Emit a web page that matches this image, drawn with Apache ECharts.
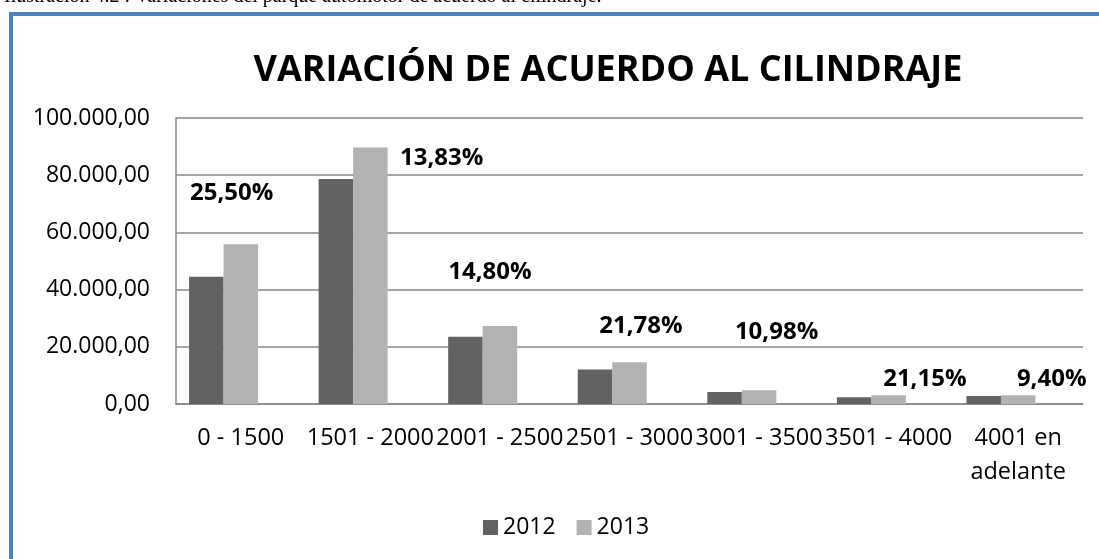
<!DOCTYPE html>
<html>
<head>
<meta charset="utf-8">
<script src="https://cdn.jsdelivr.net/npm/echarts@6/dist/echarts.min.js"></script>
<style>
  html, body { margin: 0; padding: 0; background: #fff; }
  #chart { width: 1099px; height: 559px; }
</style>
</head>
<body>
<div id="chart"></div>
<script>
// categorias de cilindraje
const categories = ['0 - 1500', '1501 - 2000', '2001 - 2500', '2501 - 3000', '3001 - 3500', '3501 - 4000', '4001 en adelante'];
// parque automotor por año
const values2012 = [44500, 78700, 23500, 12100, 4200, 2400, 2800];
const values2013 = [55900, 89700, 27300, 14600, 4800, 3100, 3100];
// variación porcentual 2012 -> 2013
const variacion = [25.50, 13.83, 14.80, 21.78, 10.98, 21.15, 9.40];
// ticks del eje Y
const yTicks = [0, 20000, 40000, 60000, 80000, 100000];

// desplazamiento de cada etiqueta (fueron movidas a mano en el original)
const labelOffsets = [[-43.6, -211], [36.8, -246], [-44.5, -132], [-23.1, -78], [-17, -72], [1.7, -25], [-1, -25]];

function fmtNum(v) {
  const parts = v.toFixed(2).split('.');
  parts[0] = parts[0].replace(/\B(?=(\d{3})+(?!\d))/g, '.');
  return parts.join(',');
}

const chart = echarts.init(document.getElementById('chart'));

const option = {
  animation: false,
  backgroundColor: '#fff',
  title: {
    text: 'VARIACIÓN DE ACUERDO AL CILINDRAJE',
    left: 603,
    top: 48,
    textAlign: 'center',
    textStyle: { fontFamily: 'Open Sans', fontWeight: 'bold', fontSize: 36, color: '#000' }
  },
  legend: {
    data: ['2012', '2013'],
    left: 483,
    top: 516,
    padding: 0,
    itemWidth: 15,
    itemHeight: 15,
    itemGap: 21,
    icon: 'rect',
    textStyle: { fontFamily: 'Open Sans', fontSize: 23, color: '#000' }
  },
  grid: { left: 176, right: 16, top: 118, bottom: 155 },
  xAxis: {
    type: 'category',
    data: categories,
    axisLine: { lineStyle: { color: '#868686', width: 1.5 } },
    axisTick: { show: false },
    axisLabel: {
      interval: 0,
      margin: 17,
      fontFamily: 'Open Sans',
      fontSize: 23.5,
      lineHeight: 34,
      color: '#000',
      formatter: function (v) { return v.replace(' en ', ' en\n'); }
    }
  },
  yAxis: {
    type: 'value',
    min: yTicks[0],
    max: yTicks[yTicks.length - 1],
    interval: yTicks[1] - yTicks[0],
    axisLine: { show: true, lineStyle: { color: '#868686', width: 1.5 } },
    axisTick: { show: false },
    splitLine: { lineStyle: { color: '#868686', width: 1.5 } },
    axisLabel: {
      margin: 26,
      fontFamily: 'Open Sans',
      fontSize: 23,
      color: '#000',
      formatter: fmtNum
    }
  },
  series: [
    {
      name: '2012',
      type: 'bar',
      data: values2012,
      barWidth: 34.5,
      barGap: '0%',
      itemStyle: { color: '#626262' }
    },
    {
      name: '2013',
      type: 'bar',
      data: values2013,
      barWidth: 34.5,
      barGap: '0%',
      itemStyle: { color: '#b2b2b2' }
    },
    {
      // serie de variación: barra casi nula, solo se ve la etiqueta
      name: 'Variación',
      type: 'bar',
      barWidth: 34.5,
      barGap: '0%',
      itemStyle: { color: 'rgba(0,0,0,0)' },
      data: variacion.map((v, i) => ({
        value: v,
        label: { offset: labelOffsets[i] }
      })),
      label: {
        show: true,
        position: [17.25, 0],
        align: 'center',
        verticalAlign: 'middle',
        fontFamily: 'Open Sans',
        fontWeight: 'bold',
        fontSize: 24,
        color: '#000',
        formatter: p => p.value.toFixed(2).replace('.', ',') + '%'
      }
    }
  ],
  graphic: [
    {
      type: 'rect',
      silent: true,
      shape: { x: 11, y: 14, width: 1200, height: 700 },
      style: { fill: 'none', stroke: '#4f81bd', lineWidth: 4 }
    },
    {
      type: 'text',
      silent: true,
      left: 4,
      top: -13,
      style: {
        text: 'Ilustración 4.2 : Variaciones del parque automotor de acuerdo al cilindraje.',
        fontFamily: 'Liberation Serif',
        fontSize: 20,
        fill: '#000'
      }
    }
  ]
};

chart.setOption(option);
</script>
</body>
</html>
